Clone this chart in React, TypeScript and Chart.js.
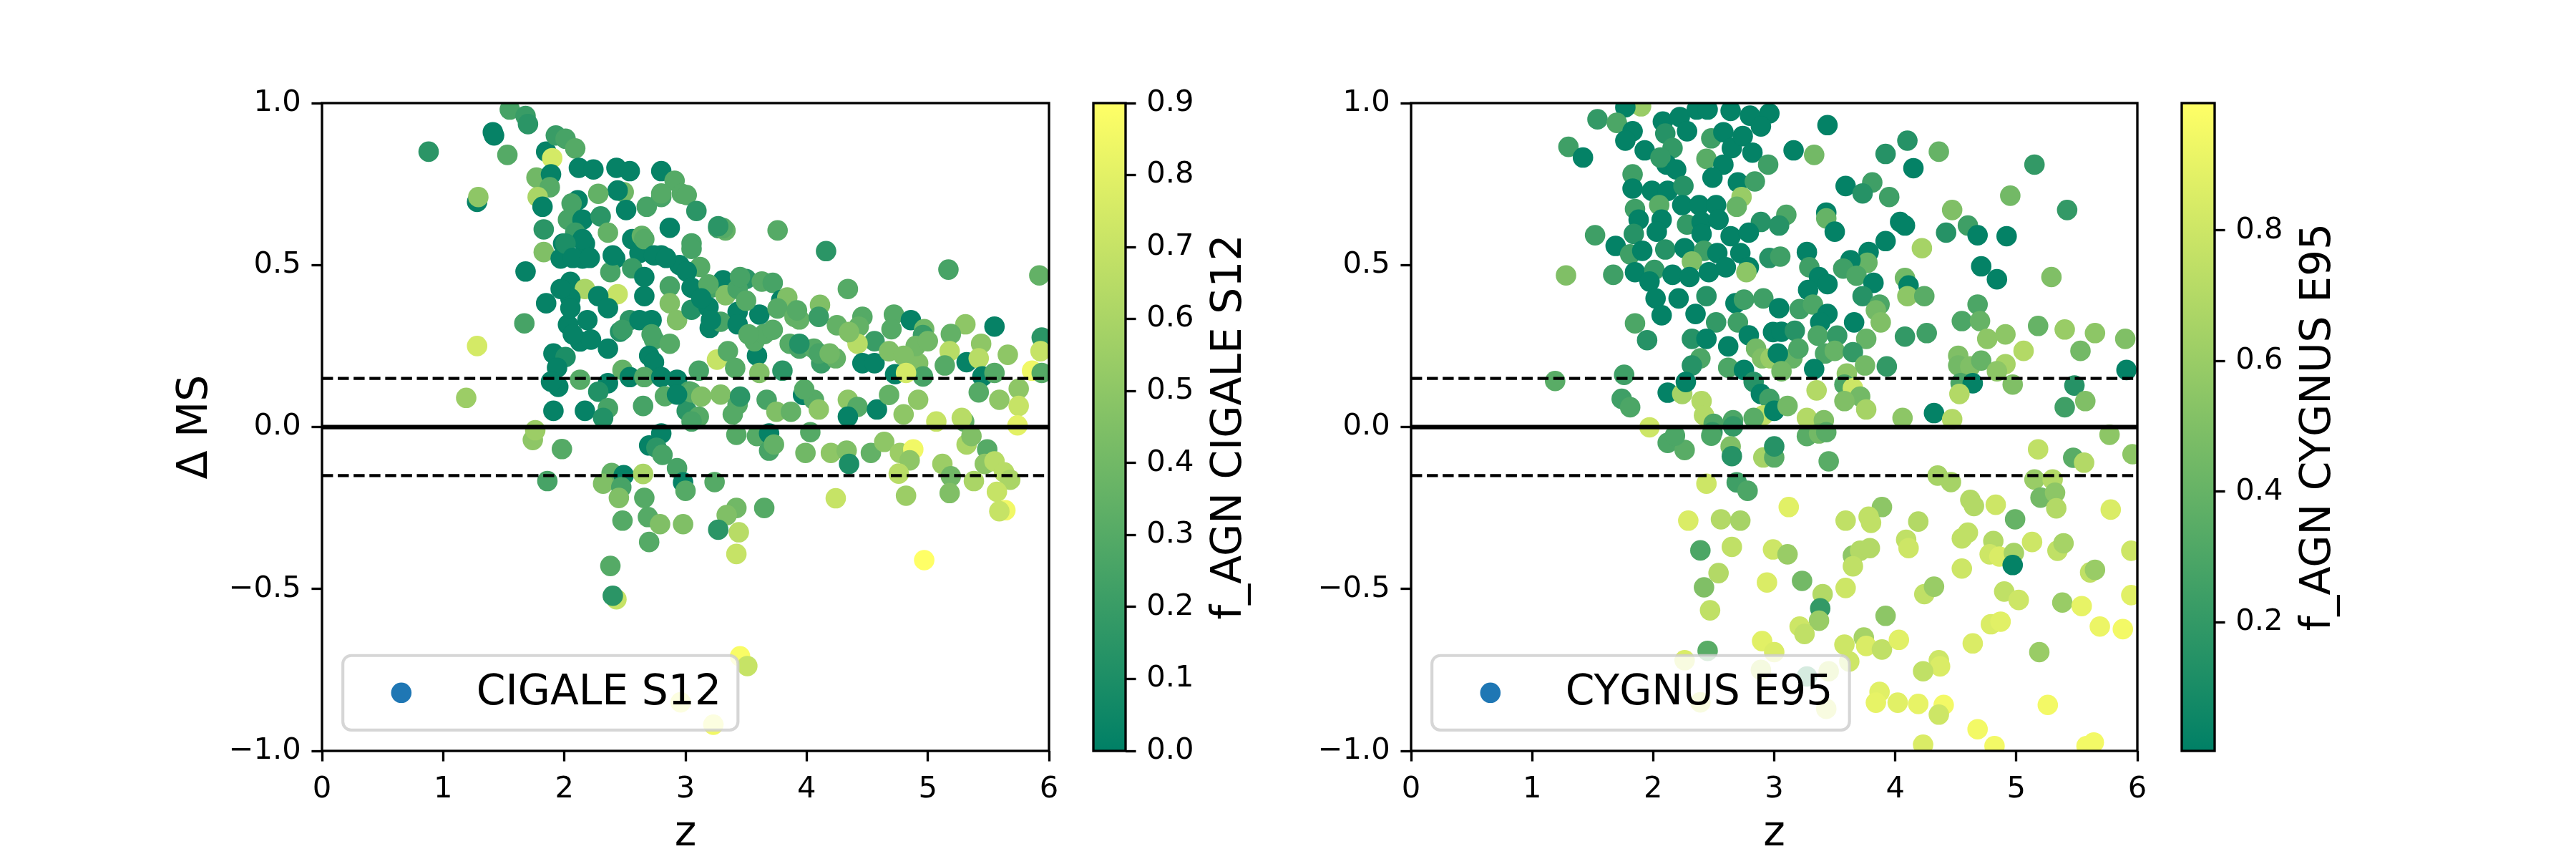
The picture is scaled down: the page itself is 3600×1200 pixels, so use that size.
import { useEffect, useRef } from 'react';
import { Chart, registerables } from 'chart.js';

Chart.register(...registerables);

// ---------------- data ----------------
const zTicks = [0, 1, 2, 3, 4, 5, 6];
const dmsTicks = [-1, -0.5, 0, 0.5, 1];
const dashedLevels = [-0.15, 0.15];
const solidLevels = [0];
const cigaleCbTicks = [0, 0.1, 0.2, 0.3, 0.4, 0.5, 0.6, 0.7, 0.8, 0.9];
const cygnusCbTicks = [0.2, 0.4, 0.6, 0.8];
const cigaleRange = [0, 0.9];
const cygnusRange = [0.003, 0.995];

const cigaleZ = [
  0.88, 1.41, 1.42, 1.55, 1.68, 1.70, 1.53, 1.28, 1.29, 1.28,
  1.19, 1.68, 1.67, 1.74, 1.76, 1.85, 1.90, 1.93, 2.01, 2.09,
  1.77, 1.89, 1.88, 1.78, 1.82, 1.83, 1.83, 2.12, 2.24, 2.43,
  2.54, 2.80, 2.49, 2.44, 2.28, 2.11, 2.06, 2.51, 2.68, 2.80,
  2.91, 2.97, 2.87, 3.05, 2.03, 2.15, 2.30, 2.36, 2.09, 1.99,
  2.17, 2.56, 2.64, 2.62, 2.80, 1.97, 2.15, 2.42, 2.56, 2.38,
  2.95, 2.05, 2.17, 2.44, 2.28, 2.66, 2.87, 2.87, 2.93, 1.85,
  2.05, 2.36, 2.19, 2.03, 2.54, 2.72, 2.46, 2.74, 2.87, 2.13,
  2.22, 2.36, 1.91, 2.01, 2.70, 2.74, 1.94, 1.95, 2.13, 2.36,
  2.48, 2.54, 2.66, 2.80, 2.93, 2.28, 2.36, 2.17, 2.32, 1.91,
  2.65, 2.83, 3.01, 2.80, 3.03, 3.01, 3.09, 3.27, 3.33, 3.76,
  4.16, 5.17, 5.92, 3.05, 3.12, 3.01, 3.05, 3.21, 3.31, 3.50,
  3.63, 3.72, 3.33, 3.43, 3.79, 3.84, 3.05, 3.19, 3.43, 3.61,
  3.76, 3.90, 4.11, 4.34, 3.20, 3.29, 3.43, 3.94, 4.10, 4.25,
  4.38, 4.46, 4.43, 4.72, 4.86, 4.97, 4.70, 4.96, 5.31, 5.55,
  5.19, 5.94, 5.93, 5.44, 5.66, 5.18, 5.32, 5.42, 5.86, 5.94,
  5.45, 5.55, 5.14, 4.92, 4.96, 4.90, 5.00, 4.56, 4.42, 4.46,
  4.56, 4.73, 4.68, 4.80, 4.82, 3.26, 3.11, 3.35, 3.41, 3.59,
  3.57, 3.65, 3.80, 3.86, 3.94, 4.06, 4.12, 4.24, 3.61, 3.05,
  3.29, 3.43, 3.39, 3.67, 3.75, 3.87, 3.97, 4.06, 4.10, 4.34,
  4.42, 4.34, 4.58, 4.68, 4.80, 4.92, 5.07, 5.30, 5.28, 5.42,
  5.59, 5.75, 5.75, 5.74, 3.11, 3.05, 1.98, 1.86, 2.70, 2.76,
  2.81, 2.93, 2.98, 3.00, 2.39, 2.49, 2.32, 2.47, 2.45, 2.65,
  2.66, 2.69, 2.79, 2.48, 2.98, 2.70, 2.38, 2.43, 2.40, 2.96,
  3.42, 3.59, 3.69, 3.69, 3.73, 4.03, 3.99, 4.20, 4.33, 4.35,
  4.53, 4.64, 4.77, 4.88, 4.85, 4.76, 5.12, 5.19, 5.32, 5.36,
  5.49, 5.47, 5.55, 5.63, 5.68, 5.38, 5.18, 5.57, 5.64, 5.59,
  3.24, 4.24, 4.82, 3.42, 3.34, 3.65, 3.27, 3.44, 3.42, 4.97,
  3.45, 3.51, 3.23,
  2.80, 3.31, 3.27, 2.15, 2.01, 2.07, 2.21, 2.40, 2.66, 2.74,
  2.84, 2.66, 1.97, 2.05, 2.07, 2.48, 2.62, 2.72, 3.19, 3.21,
  3.13, 3.45, 3.50, 3.52, 3.72, 3.92, 3.94, 4.10, 4.19, 4.35,
  1.89, 2.93, 3.13, 3.45, 3.98,
];
const cigaleDMS = [
  0.85, 0.91, 0.90, 0.98, 0.96, 0.935, 0.84, 0.695, 0.71, 0.25,
  0.09, 0.48, 0.32, -0.04, -0.01, 0.85, 0.83, 0.90, 0.89, 0.86,
  0.77, 0.78, 0.74, 0.71, 0.68, 0.61, 0.54, 0.80, 0.795, 0.80,
  0.79, 0.79, 0.725, 0.73, 0.72, 0.70, 0.69, 0.67, 0.68, 0.71,
  0.76, 0.72, 0.615, 0.567, 0.64, 0.64, 0.65, 0.60, 0.60, 0.566,
  0.566, 0.58, 0.59, 0.537, 0.53, 0.52, 0.52, 0.52, 0.49, 0.478,
  0.50, 0.448, 0.426, 0.41, 0.404, 0.404, 0.434, 0.382, 0.33, 0.382,
  0.397, 0.367, 0.33, 0.316, 0.33, 0.33, 0.294, 0.27, 0.257, 0.264,
  0.27, 0.242, 0.227, 0.216, 0.22, 0.20, 0.183, 0.124, 0.146, 0.135,
  0.176, 0.154, 0.154, 0.154, 0.146, 0.109, 0.058, 0.05, 0.028, 0.05,
  0.065, 0.095, 0.05, -0.02, 0.11, 0.716, 0.667, 0.614, 0.607, 0.607,
  0.543, 0.486, 0.468, 0.55, 0.494, 0.48, 0.43, 0.43, 0.453, 0.457,
  0.449, 0.445, 0.407, 0.426, 0.392, 0.40, 0.362, 0.37, 0.355, 0.347,
  0.366, 0.34, 0.377, 0.426, 0.306, 0.325, 0.317, 0.332, 0.34, 0.314,
  0.287, 0.34, 0.31, 0.347, 0.33, 0.302, 0.302, 0.284, 0.317, 0.31,
  0.287, 0.276, 0.234, 0.257, 0.223, 0.234, 0.20, 0.212, 0.174, 0.167,
  0.156, 0.167, 0.19, 0.197, 0.156, 0.25, 0.265, 0.265, 0.257, 0.197,
  0.197, 0.163, 0.234, 0.22, 0.167, 0.208, 0.174, 0.234, 0.182, 0.22,
  0.265, 0.287, 0.174, 0.257, 0.242, 0.242, 0.197, 0.212, 0.167, 0.107,
  0.10, 0.069, 0.039, 0.084, 0.047, 0.047, 0.099, 0.084, 0.054, 0.084,
  0.062, 0.032, 0.054, 0.099, 0.039, 0.084, 0.017, 0.017, 0.028, 0.107,
  0.084, 0.118, 0.065, 0.005, 0.032, 0.017, -0.068, -0.167, -0.057, -0.064,
  -0.086, -0.127, -0.171, -0.197, -0.142, -0.149, -0.175, -0.186, -0.219, -0.145,
  -0.219, -0.278, -0.30, -0.289, -0.30, -0.355, -0.429, -0.532, -0.521, -0.85,
  -0.024, -0.028, -0.02, -0.073, -0.054, -0.016, -0.08, -0.08, -0.073, -0.114,
  -0.08, -0.046, -0.08, -0.069, -0.103, -0.144, -0.114, -0.152, -0.054, -0.028,
  -0.069, -0.114, -0.106, -0.14, -0.163, -0.167, -0.204, -0.20, -0.257, -0.26,
  -0.17, -0.22, -0.212, -0.25, -0.272, -0.25, -0.317, -0.325, -0.392, -0.411,
  -0.708, -0.738, -0.919,
  0.721, 0.614, 0.62, 0.58, 0.566, 0.522, 0.522, 0.53, 0.58, 0.53,
  0.522, 0.463, 0.426, 0.367, 0.286, 0.30, 0.33, 0.286, 0.44, 0.33,
  0.397, 0.463, 0.39, 0.286, 0.30, 0.36, 0.257, 0.227, 0.227, 0.293,
  0.14, 0.10, 0.094, 0.094, 0.116,
];
const cigaleFAGN = [
  0.15, 0.02, 0.02, 0.25, 0.2, 0.15, 0.3, 0.02, 0.5, 0.75,
  0.55, 0.02, 0.25, 0.5, 0.55, 0.02, 0.75, 0.2, 0.25, 0.3,
  0.4, 0.02, 0.3, 0.6, 0.02, 0.15, 0.45, 0.02, 0.02, 0.02,
  0.02, 0.02, 0.4, 0.02, 0.35, 0.02, 0.25, 0.02, 0.25, 0.25,
  0.3, 0.3, 0.02, 0.25, 0.25, 0.02, 0.15, 0.35, 0.2, 0.02,
  0.02, 0.02, 0.35, 0.02, 0.02, 0.02, 0.02, 0.02, 0.2, 0.25,
  0.02, 0.02, 0.6, 0.7, 0.02, 0.02, 0.25, 0.45, 0.45, 0.02,
  0.02, 0.02, 0.02, 0.02, 0.15, 0.02, 0.12, 0.25, 0.3, 0.02,
  0.02, 0.02, 0.02, 0.1, 0.02, 0.02, 0.02, 0.02, 0.3, 0.02,
  0.35, 0.02, 0.3, 0.02, 0.02, 0.12, 0.25, 0.02, 0.12, 0.02,
  0.25, 0.3, 0.15, 0.02, 0.25, 0.3, 0.15, 0.2, 0.35, 0.3,
  0.15, 0.25, 0.35, 0.25, 0.3, 0.02, 0.02, 0.25, 0.02, 0.15,
  0.3, 0.25, 0.45, 0.25, 0.02, 0.45, 0.12, 0.02, 0.02, 0.02,
  0.3, 0.35, 0.45, 0.3, 0.02, 0.25, 0.02, 0.35, 0.2, 0.35,
  0.3, 0.3, 0.35, 0.3, 0.02, 0.4, 0.3, 0.2, 0.5, 0.02,
  0.35, 0.15, 0.7, 0.5, 0.5, 0.65, 0.02, 0.65, 0.85, 0.3,
  0.02, 0.3, 0.3, 0.45, 0.25, 0.4, 0.4, 0.2, 0.65, 0.02,
  0.02, 0.02, 0.45, 0.45, 0.75, 0.7, 0.25, 0.3, 0.3, 0.02,
  0.3, 0.3, 0.15, 0.3, 0.25, 0.3, 0.2, 0.35, 0.45, 0.3,
  0.45, 0.3, 0.3, 0.25, 0.45, 0.35, 0.02, 0.3, 0.5, 0.5,
  0.3, 0.02, 0.02, 0.35, 0.5, 0.5, 0.7, 0.35, 0.65, 0.3,
  0.5, 0.5, 0.7, 0.8, 0.3, 0.25, 0.3, 0.25, 0.02, 0.15,
  0.25, 0.25, 0.02, 0.3, 0.35, 0.02, 0.45, 0.25, 0.45, 0.6,
  0.3, 0.3, 0.45, 0.3, 0.45, 0.3, 0.3, 0.7, 0.15, 0.85,
  0.3, 0.3, 0.02, 0.25, 0.35, 0.3, 0.4, 0.5, 0.45, 0.1,
  0.35, 0.5, 0.55, 0.85, 0.5, 0.65, 0.55, 0.4, 0.6, 0.45,
  0.3, 0.5, 0.65, 0.65, 0.6, 0.6, 0.45, 0.7, 0.85, 0.7,
  0.3, 0.7, 0.55, 0.4, 0.45, 0.3, 0.15, 0.65, 0.7, 0.9,
  0.88, 0.7, 0.85,
  0.3, 0.3, 0.15, 0.02, 0.1, 0.02, 0.02, 0.02, 0.3, 0.02,
  0.02, 0.02, 0.02, 0.02, 0.02, 0.2, 0.02, 0.25, 0.3, 0.02,
  0.02, 0.25, 0.3, 0.3, 0.3, 0.3, 0.12, 0.25, 0.4, 0.45,
  0.02, 0.02, 0.45, 0.15, 0.3,
];

const cygnusZ = [
  1.90, 1.77, 1.54, 1.70, 1.30, 1.42, 1.83, 1.77, 1.93, 2.08,
  2.22, 2.28, 2.36, 2.45, 2.64, 2.80, 2.96, 2.89, 2.10, 2.16,
  2.48, 2.58, 2.65, 2.74, 2.82, 2.95, 2.11, 2.06, 2.19, 2.44,
  2.58, 2.49, 2.70, 2.84, 1.83, 1.83, 1.99, 2.12, 2.25, 2.73,
  2.69, 1.85, 2.05, 2.24, 2.38, 2.52, 1.88, 2.07, 2.28, 2.40,
  2.54, 2.89, 1.52, 1.84, 2.03, 2.40, 2.64, 2.79, 1.69, 1.81,
  1.91, 2.10, 2.26, 2.42, 2.32, 2.53, 2.72, 2.79, 2.77, 2.96,
  1.28, 1.67, 1.85, 2.01, 2.16, 2.30, 2.46, 2.60, 1.97, 2.02,
  2.21, 2.44, 2.68, 2.75, 2.91, 2.07, 2.35, 2.52, 2.70, 1.85,
  1.95, 2.32, 2.44, 2.62, 2.79, 2.85, 2.90, 2.99, 2.39, 2.32,
  2.62, 2.75, 2.83, 2.89, 2.96, 1.19, 1.76, 1.74, 1.81, 2.12,
  2.24, 2.27, 2.40, 2.42, 2.50, 2.66, 2.91, 2.83, 1.97, 3.44,
  3.16, 3.33, 3.92, 4.10, 4.15, 4.36, 5.15, 3.59, 3.81, 3.73,
  3.95, 4.95, 3.10, 3.04, 3.43, 3.43, 3.50, 4.04, 4.08, 4.47,
  5.42, 4.42, 4.60, 4.68, 4.92, 4.22, 3.92, 3.27, 3.05, 3.78,
  3.77, 3.63, 3.57, 3.68, 3.29, 3.37, 3.44, 3.28, 3.82, 3.73,
  4.08, 4.11, 4.10, 4.24, 4.71, 4.84, 5.29, 3.04, 3.21, 3.32,
  3.44, 3.38, 3.87, 3.84, 3.88, 3.66, 4.68, 4.55, 4.70, 3.06,
  3.17, 3.36, 3.52, 3.76, 4.08, 4.26, 5.18, 5.40, 5.65, 5.90,
  4.76, 4.91, 5.06, 5.53, 2.97, 3.15, 3.03, 3.20, 3.42, 3.50,
  3.65, 3.75, 3.93, 3.33, 3.06, 4.52, 4.52, 4.62, 4.71, 4.91,
  4.84, 5.91, 3.60, 4.54, 4.64, 4.53, 4.97, 5.48, 5.57, 5.40,
  3.35, 3.58, 3.65, 3.71, 3.58, 3.76, 3.00, 3.11, 3.27, 3.41,
  4.06, 4.32, 4.47, 2.12, 2.26, 2.18, 2.49, 2.48, 2.66, 2.64,
  2.65, 2.91, 3.00, 3.00, 2.44, 2.69, 2.78, 2.29, 2.56, 2.72,
  2.39, 2.65, 2.99, 2.54, 2.42, 2.94, 2.47, 2.45, 2.90, 3.00,
  2.26, 2.89, 2.39, 3.45, 3.27, 3.37, 3.43, 5.18, 5.47, 5.56,
  5.77, 5.96, 4.35, 4.46, 5.15, 5.30, 5.20, 5.32, 5.33, 3.12,
  3.59, 3.89, 3.78, 3.80, 4.19, 4.62, 4.65, 4.83, 4.99, 5.78,
  3.11, 3.65, 3.71, 3.79, 3.65, 4.09, 4.11, 4.55, 4.60, 4.81,
  4.78, 4.86, 4.98, 5.13, 5.34, 5.39, 4.55, 5.95, 5.61, 5.65,
  3.23, 3.40, 3.38, 3.37, 3.59, 4.24, 4.32, 4.90, 5.02, 5.38,
  5.54, 5.95, 3.92, 3.21, 3.25, 4.79, 4.87, 5.69, 5.88, 3.58,
  3.74, 3.76, 3.89, 4.03, 4.64, 5.19, 4.36, 4.37, 4.23, 3.62,
  3.45, 3.87, 3.84, 4.02, 4.19, 4.40, 4.36, 5.26, 4.68, 4.82,
  4.23, 5.58, 5.64, 3.43, 3.27, 4.97,
];
const cygnusDMS = [
  0.99, 0.987, 0.95, 0.939, 0.865, 0.832, 0.913, 0.884, 0.854, 0.943,
  0.957, 0.913, 0.98, 0.98, 0.976, 0.961, 0.968, 0.928, 0.906, 0.861,
  0.891, 0.91, 0.861, 0.898, 0.847, 0.81, 0.81, 0.832, 0.795, 0.828,
  0.81, 0.77, 0.755, 0.758, 0.78, 0.736, 0.729, 0.729, 0.744, 0.71,
  0.68, 0.673, 0.685, 0.685, 0.685, 0.685, 0.64, 0.64, 0.625, 0.633,
  0.64, 0.633, 0.592, 0.596, 0.603, 0.596, 0.589, 0.60, 0.559, 0.533,
  0.544, 0.548, 0.552, 0.544, 0.511, 0.537, 0.537, 0.493, 0.478, 0.522,
  0.468, 0.47, 0.478, 0.485, 0.47, 0.463, 0.478, 0.493, 0.449, 0.397,
  0.397, 0.404, 0.382, 0.393, 0.397, 0.345, 0.349, 0.323, 0.323, 0.32,
  0.268, 0.272, 0.272, 0.249, 0.283, 0.242, 0.212, 0.293, 0.212, 0.19,
  0.183, 0.176, 0.139, 0.102, 0.087, 0.142, 0.161, 0.087, 0.061, 0.106,
  0.102, 0.139, 0.08, 0.036, 0.01, 0.021, 0.036, 0.028, -0.001, 0.932,
  0.854, 0.84, 0.843, 0.884, 0.799, 0.85, 0.81, 0.744, 0.755, 0.721,
  0.71, 0.714, 0.655, 0.622, 0.662, 0.644, 0.603, 0.633, 0.622, 0.67,
  0.67, 0.60, 0.622, 0.592, 0.589, 0.552, 0.574, 0.54, 0.526, 0.54,
  0.507, 0.515, 0.489, 0.467, 0.493, 0.463, 0.441, 0.423, 0.445, 0.404,
  0.46, 0.437, 0.404, 0.404, 0.496, 0.456, 0.463, 0.367, 0.364, 0.378,
  0.349, 0.323, 0.378, 0.36, 0.323, 0.323, 0.378, 0.327, 0.327, 0.294,
  0.297, 0.282, 0.282, 0.272, 0.279, 0.29, 0.312, 0.301, 0.29, 0.272,
  0.272, 0.286, 0.235, 0.235, 0.212, 0.212, 0.227, 0.242, 0.227, 0.235,
  0.231, 0.19, 0.187, 0.179, 0.172, 0.22, 0.19, 0.187, 0.205, 0.194,
  0.172, 0.176, 0.165, 0.135, 0.135, 0.102, 0.131, 0.128, 0.08, 0.061,
  0.113, 0.131, 0.12, 0.094, 0.08, 0.054, 0.05, 0.065, 0.028, 0.021,
  0.028, 0.043, 0.024, -0.049, -0.071, -0.027, -0.016, -0.027, 0.002, -0.06,
  -0.09, -0.094, -0.094, -0.06, -0.175, -0.171, -0.197, -0.289, -0.285, -0.289,
  -0.381, -0.37, -0.378, -0.451, -0.495, -0.48, -0.566, -0.691, -0.661, -0.695,
  -0.72, -0.75, -0.85, -0.106, -0.028, -0.02, -0.016, -0.069, -0.095, -0.11,
  -0.024, -0.084, -0.15, -0.17, -0.162, -0.162, -0.218, -0.203, -0.251, -0.247,
  -0.289, -0.247, -0.277, -0.296, -0.292, -0.225, -0.244, -0.24, -0.285, -0.255,
  -0.393, -0.397, -0.382, -0.374, -0.43, -0.348, -0.374, -0.344, -0.326, -0.352,
  -0.393, -0.40, -0.389, -0.355, -0.382, -0.359, -0.437, -0.382, -0.449, -0.441,
  -0.475, -0.516, -0.56, -0.598, -0.497, -0.516, -0.493, -0.508, -0.534, -0.542,
  -0.553, -0.519, -0.583, -0.616, -0.639, -0.609, -0.601, -0.616, -0.624, -0.672,
  -0.65, -0.676, -0.687, -0.657, -0.668, -0.695, -0.72, -0.739, -0.754, -0.724,
  -0.754, -0.818, -0.851, -0.851, -0.855, -0.858, -0.888, -0.858, -0.933, -0.985,
  -0.981, -0.985, -0.974, -0.87, -0.77, -0.426,
];
const cygnusFAGN = [
  0.6, 0.02, 0.2, 0.3, 0.25, 0.02, 0.02, 0.02, 0.02, 0.02,
  0.02, 0.02, 0.02, 0.02, 0.02, 0.02, 0.02, 0.02, 0.15, 0.2,
  0.25, 0.02, 0.02, 0.02, 0.02, 0.25, 0.02, 0.2, 0.02, 0.35,
  0.02, 0.02, 0.02, 0.25, 0.25, 0.02, 0.02, 0.02, 0.15, 0.6,
  0.4, 0.25, 0.35, 0.02, 0.02, 0.02, 0.02, 0.02, 0.2, 0.02,
  0.02, 0.15, 0.25, 0.15, 0.02, 0.02, 0.02, 0.02, 0.02, 0.25,
  0.02, 0.15, 0.02, 0.25, 0.5, 0.02, 0.02, 0.02, 0.55, 0.15,
  0.5, 0.25, 0.02, 0.2, 0.02, 0.02, 0.02, 0.02, 0.02, 0.02,
  0.02, 0.15, 0.02, 0.25, 0.25, 0.02, 0.02, 0.2, 0.25, 0.3,
  0.15, 0.15, 0.02, 0.02, 0.02, 0.45, 0.5, 0.02, 0.3, 0.15,
  0.3, 0.02, 0.15, 0.02, 0.25, 0.35, 0.25, 0.25, 0.3, 0.02,
  0.65, 0.02, 0.7, 0.7, 0.3, 0.3, 0.75, 0.35, 0.8, 0.02,
  0.02, 0.45, 0.15, 0.15, 0.02, 0.4, 0.2, 0.02, 0.25, 0.15,
  0.25, 0.45, 0.3, 0.15, 0.02, 0.4, 0.02, 0.02, 0.02, 0.5,
  0.2, 0.15, 0.25, 0.02, 0.02, 0.65, 0.02, 0.02, 0.25, 0.02,
  0.4, 0.02, 0.25, 0.3, 0.25, 0.02, 0.02, 0.02, 0.02, 0.15,
  0.45, 0.02, 0.55, 0.35, 0.02, 0.02, 0.5, 0.02, 0.25, 0.3,
  0.02, 0.02, 0.3, 0.45, 0.5, 0.02, 0.3, 0.3, 0.4, 0.02,
  0.15, 0.3, 0.2, 0.4, 0.2, 0.25, 0.4, 0.6, 0.55, 0.5,
  0.55, 0.55, 0.7, 0.45, 0.6, 0.4, 0.02, 0.3, 0.3, 0.4,
  0.2, 0.45, 0.2, 0.02, 0.45, 0.5, 0.45, 0.5, 0.4, 0.65,
  0.55, 0.02, 0.55, 0.3, 0.02, 0.7, 0.5, 0.15, 0.5, 0.25,
  0.7, 0.3, 0.8, 0.45, 0.5, 0.65, 0.02, 0.45, 0.7, 0.5,
  0.55, 0.02, 0.7, 0.3, 0.35, 0.3, 0.2, 0.3, 0.2, 0.5,
  0.15, 0.65, 0.35, 0.15, 0.8, 0.25, 0.3, 0.85, 0.7, 0.65,
  0.3, 0.75, 0.8, 0.7, 0.5, 0.85, 0.75, 0.35, 0.88, 0.85,
  0.85, 0.8, 0.85, 0.35, 0.35, 0.45, 0.35, 0.75, 0.35, 0.7,
  0.55, 0.55, 0.65, 0.65, 0.6, 0.7, 0.45, 0.55, 0.7, 0.88,
  0.75, 0.55, 0.75, 0.75, 0.7, 0.7, 0.7, 0.8, 0.4, 0.85,
  0.6, 0.55, 0.7, 0.7, 0.75, 0.75, 0.8, 0.75, 0.75, 0.7,
  0.8, 0.85, 0.65, 0.8, 0.75, 0.65, 0.8, 0.8, 0.75, 0.6,
  0.45, 0.7, 0.2, 0.6, 0.8, 0.75, 0.6, 0.75, 0.8, 0.6,
  0.9, 0.88, 0.55, 0.8, 0.75, 0.85, 0.88, 0.92, 0.95, 0.8,
  0.65, 0.85, 0.75, 0.88, 0.85, 0.6, 0.8, 0.85, 0.75, 0.8,
  0.8, 0.88, 0.9, 0.88, 0.9, 0.95, 0.8, 0.95, 0.95, 0.95,
  0.85, 0.95, 0.95, 0.85, 0.2, 0.02,
];

// ---------------- layout / style ----------------
const FIG_W = 3600;
const FIG_H = 1200;
const PT = 300 / 72;
const FONT = '"DejaVu Sans", sans-serif';
const TICK_FONT = 10 * PT;
const LABEL_FONT = 14 * PT;
const TICK_LEN = 3.5 * PT;
const TICK_PAD = 3.5 * PT;
const SPINE_W = 0.8 * PT;
const MARKER_R = 14.3;
const AX_TOP = 144;
const AX_BOTTOM = 1049;
const YSCALE_W = 200;
const XSCALE_H = 100;

const PANELS = [
  {
    name: 'CIGALE S12', cbLabel: 'f_AGN CIGALE S12', ylabel: '\u0394 MS',
    z: cigaleZ, dms: cigaleDMS, f: cigaleFAGN, range: cigaleRange, cbTicks: cigaleCbTicks,
    axLeft: 450, axRight: 1466, cbLeft: 1528, cbRight: 1573,
  },
  {
    name: 'CYGNUS E95', cbLabel: 'f_AGN CYGNUS E95', ylabel: '',
    z: cygnusZ, dms: cygnusDMS, f: cygnusFAGN, range: cygnusRange, cbTicks: cygnusCbTicks,
    axLeft: 1972, axRight: 2987, cbLeft: 3049, cbRight: 3095,
  },
];

function summer(t: number) {
  const c = Math.max(0, Math.min(1, t));
  return `rgb(${Math.round(255 * c)}, ${Math.round(127.5 + 127.5 * c)}, 102)`;
}
const fmt = (v: number, d: number) => Number(v).toFixed(d).replace('-', '\u2212');

function tickStyle(decimals: number) {
  return {
    color: '#000',
    font: { family: FONT, size: TICK_FONT },
    padding: TICK_PAD,
    autoSkip: false,
    maxRotation: 0,
    minRotation: 0,
    callback: (v: any) => fmt(v, decimals),
  };
}
const gridStyle = {
  display: true,
  drawOnChartArea: false,
  drawTicks: true,
  tickLength: TICK_LEN,
  tickWidth: SPINE_W,
  tickColor: '#000',
};

function roundRectPath(ctx: CanvasRenderingContext2D, x: number, y: number, w: number, h: number, r: number) {
  ctx.beginPath();
  ctx.moveTo(x + r, y);
  ctx.lineTo(x + w - r, y);
  ctx.arcTo(x + w, y, x + w, y + r, r);
  ctx.lineTo(x + w, y + h - r);
  ctx.arcTo(x + w, y + h, x + w - r, y + h, r);
  ctx.lineTo(x + r, y + h);
  ctx.arcTo(x, y + h, x, y + h - r, r);
  ctx.lineTo(x, y + r);
  ctx.arcTo(x, y, x + r, y, r);
  ctx.closePath();
}

function makeScatter(canvas: HTMLCanvasElement, p: any) {
  const pts = p.z.map((z: number, i: number) => ({ x: z, y: p.dms[i] }));
  const cols = p.f.map((v: number) => summer((v - p.range[0]) / (p.range[1] - p.range[0])));
  const zMin = zTicks[0];
  const zMax = zTicks[zTicks.length - 1];
  const hline = (y: number, dashed: boolean) => ({
    type: 'line',
    data: [{ x: zMin, y }, { x: zMax, y }],
    borderColor: '#000',
    borderWidth: dashed ? 1 * PT : 1.5 * PT,
    borderDash: dashed ? [3.7 * PT, 1.6 * PT] : [],
    pointRadius: 0,
    fill: false,
    tension: 0,
    order: 1,
    clip: 0,
  });

  const deco = {
    id: 'deco',
    afterDatasetsDraw(chart: any) {
      const { ctx, chartArea: a } = chart;
      ctx.save();
      ctx.strokeStyle = '#000';
      ctx.lineWidth = SPINE_W;
      ctx.strokeRect(a.left, a.top, a.right - a.left, a.bottom - a.top);
      const fs = LABEL_FONT;
      ctx.font = `${fs}px ${FONT}`;
      const tw = ctx.measureText(p.name).width;
      const pad = 0.4 * fs;
      const hl = 2.0 * fs;
      const htp = 0.8 * fs;
      const bap = 0.5 * fs;
      const w = pad * 2 + hl + htp + tw;
      const h = pad * 2 + 0.985 * fs;
      const x0 = a.left + bap;
      const y1 = a.bottom - bap;
      const y0 = y1 - h;
      roundRectPath(ctx, x0, y0, w, h, 0.2 * fs);
      ctx.fillStyle = 'rgba(255,255,255,0.8)';
      ctx.fill();
      ctx.lineWidth = 1 * PT;
      ctx.strokeStyle = 'rgba(204,204,204,0.8)';
      ctx.stroke();
      const yc = (y0 + y1) / 2;
      ctx.beginPath();
      ctx.arc(x0 + pad + hl / 2, yc, MARKER_R, 0, Math.PI * 2);
      ctx.fillStyle = '#1f77b4';
      ctx.fill();
      ctx.fillStyle = '#000';
      ctx.textAlign = 'left';
      ctx.textBaseline = 'alphabetic';
      ctx.fillText(p.name, x0 + pad + hl + htp, y0 + pad + 0.776 * fs);
      ctx.restore();
    },
    afterDraw(chart: any) {
      const { ctx, chartArea: a } = chart;
      ctx.save();
      ctx.fillStyle = '#000';
      ctx.font = `${LABEL_FONT}px ${FONT}`;
      ctx.textAlign = 'center';
      ctx.textBaseline = 'alphabetic';
      ctx.fillText('z', (a.left + a.right) / 2, 1181);
      if (p.ylabel) {
        ctx.translate(289, (a.top + a.bottom) / 2);
        ctx.rotate(-Math.PI / 2);
        ctx.fillText(p.ylabel, 0, 0);
      }
      ctx.restore();
    },
  };

  return new Chart(canvas, {
    type: 'scatter',
    data: {
      datasets: [
        ...solidLevels.map((y) => hline(y, false)),
        ...dashedLevels.map((y) => hline(y, true)),
        {
          type: 'scatter',
          data: pts,
          pointBackgroundColor: cols,
          pointBorderWidth: 0,
          pointRadius: MARKER_R,
          pointHoverRadius: MARKER_R,
          order: 2,
          clip: 0,
        },
      ] as any,
    },
    options: {
      responsive: false,
      animation: false,
      devicePixelRatio: 1,
      events: [],
      layout: {
        padding: {
          left: p.axLeft - YSCALE_W,
          right: FIG_W - p.axRight,
          top: AX_TOP,
          bottom: FIG_H - AX_BOTTOM - XSCALE_H,
        },
      },
      plugins: { legend: { display: false }, tooltip: { enabled: false } },
      scales: {
        x: {
          type: 'linear',
          min: zMin,
          max: zMax,
          afterFit: (s: any) => { s.height = XSCALE_H; },
          afterBuildTicks: (s: any) => { s.ticks = zTicks.map((v) => ({ value: v })); },
          ticks: tickStyle(0),
          grid: gridStyle,
          border: { display: false },
        },
        y: {
          type: 'linear',
          min: dmsTicks[0],
          max: dmsTicks[dmsTicks.length - 1],
          afterFit: (s: any) => { s.width = YSCALE_W; },
          afterBuildTicks: (s: any) => { s.ticks = dmsTicks.map((v) => ({ value: v })); },
          ticks: tickStyle(1),
          grid: gridStyle,
          border: { display: false },
        },
      },
    } as any,
    plugins: [deco],
  });
}

function makeColorbar(canvas: HTMLCanvasElement, p: any) {
  const bar = {
    id: 'cbar',
    beforeDatasetsDraw(chart: any) {
      const { ctx, chartArea: a } = chart;
      const ys = chart.scales.y;
      ctx.save();
      const g = ctx.createLinearGradient(0, ys.getPixelForValue(p.range[0]), 0, ys.getPixelForValue(p.range[1]));
      g.addColorStop(0, summer(0));
      g.addColorStop(1, summer(1));
      ctx.fillStyle = g;
      ctx.fillRect(a.left, a.top, a.right - a.left, a.bottom - a.top);
      ctx.strokeStyle = '#000';
      ctx.lineWidth = SPINE_W;
      ctx.strokeRect(a.left, a.top, a.right - a.left, a.bottom - a.top);
      ctx.fillStyle = '#000';
      ctx.font = `${LABEL_FONT}px ${FONT}`;
      ctx.textAlign = 'center';
      ctx.textBaseline = 'alphabetic';
      ctx.translate(a.right + 161, (a.top + a.bottom) / 2);
      ctx.rotate(-Math.PI / 2);
      ctx.fillText(p.cbLabel, 0, 0);
      ctx.restore();
    },
  };
  return new Chart(canvas, {
    type: 'scatter',
    data: { datasets: [] },
    options: {
      responsive: false,
      animation: false,
      devicePixelRatio: 1,
      events: [],
      layout: {
        padding: {
          left: p.cbLeft,
          right: FIG_W - p.cbRight - YSCALE_W,
          top: AX_TOP,
          bottom: FIG_H - AX_BOTTOM,
        },
      },
      plugins: { legend: { display: false }, tooltip: { enabled: false } },
      scales: {
        x: { type: 'linear', display: false, min: 0, max: 1 },
        y: {
          type: 'linear',
          position: 'right',
          min: p.range[0],
          max: p.range[1],
          afterFit: (s: any) => { s.width = YSCALE_W; },
          afterBuildTicks: (s: any) => { s.ticks = p.cbTicks.map((v: number) => ({ value: v })); },
          ticks: tickStyle(1),
          grid: gridStyle,
          border: { display: false },
        },
      },
    } as any,
    plugins: [bar],
  });
}

export default function App() {
  const r0 = useRef<HTMLCanvasElement>(null);
  const r1 = useRef<HTMLCanvasElement>(null);
  const r2 = useRef<HTMLCanvasElement>(null);
  const r3 = useRef<HTMLCanvasElement>(null);

  useEffect(() => {
    const charts = [
      makeScatter(r0.current!, PANELS[0]),
      makeColorbar(r1.current!, PANELS[0]),
      makeScatter(r2.current!, PANELS[1]),
      makeColorbar(r3.current!, PANELS[1]),
    ];
    return () => charts.forEach((c) => c.destroy());
  }, []);

  const cs: any = { position: 'absolute', left: 0, top: 0, width: FIG_W, height: FIG_H };
  return (
    <div style={{ position: 'absolute', left: 0, top: 0, width: FIG_W, height: FIG_H, background: '#fff' }}>
      <canvas ref={r0} width={FIG_W} height={FIG_H} style={cs} />
      <canvas ref={r1} width={FIG_W} height={FIG_H} style={cs} />
      <canvas ref={r2} width={FIG_W} height={FIG_H} style={cs} />
      <canvas ref={r3} width={FIG_W} height={FIG_H} style={cs} />
    </div>
  );
}
